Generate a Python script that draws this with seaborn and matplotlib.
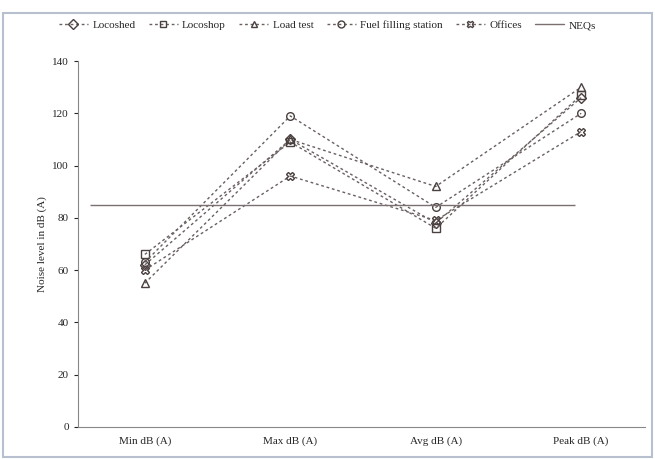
import matplotlib
matplotlib.use("Agg")
import matplotlib.pyplot as plt
import pandas as pd
import seaborn as sns

# values
levels = ["Min dB (A)", "Max dB (A)", "Avg dB (A)", "Peak dB (A)"]
locoshed = [62, 110, 78, 126]
locoshop = [66, 109, 76, 127]
load_test = [55, 110, 92, 130]
fuel_station = [63, 119, 84, 120]
offices = [60, 96, 79, 113]
neqs = 85

sites = ["Locoshed", "Locoshop", "Load test", "Fuel filling station", "Offices"]
series = [locoshed, locoshop, load_test, fuel_station, offices]

rows = []
for site, vals in zip(sites, series):
    for lvl, v in zip(levels, vals):
        rows.append({"level": lvl, "value": v, "site": site})
df = pd.DataFrame(rows)

sns.set_style("white")
plt.rcParams["font.family"] = ["Liberation Serif", "DejaVu Serif"]

fig = plt.figure(figsize=(6.55, 4.59), dpi=100)
ax = fig.add_axes([0.119, 0.07, 0.866, 0.797])

markers = {"Locoshed": "D", "Locoshop": "s", "Load test": "^",
           "Fuel filling station": "o", "Offices": "X"}
dashes = {s: (2, 2) for s in sites}
palette = {s: "#6a6060" for s in sites}

sns.lineplot(data=df, x="level", y="value", hue="site", style="site",
             markers=markers, dashes=dashes, palette=palette, sort=False,
             linewidth=1.0, markersize=5.5, ax=ax, legend=False)

for line in ax.get_lines():
    line.set_markerfacecolor("none")
    line.set_markeredgecolor("#4a4040")
    line.set_markeredgewidth(1.0)

ax.hlines(neqs, -0.38, 2.96, color="#7a7070", linewidth=1.0)

ax.set_ylim(0, 140)
ax.set_xlim(-0.46, 3.44)
ax.set_yticks(range(0, 141, 20))
ax.set_xlabel("")
ax.set_ylabel("Noise level in dB (A)", fontsize=8)
ax.tick_params(axis="both", labelsize=8, length=3, direction="out", left=True, bottom=False)
for side in ["top", "right"]:
    ax.spines[side].set_visible(False)
for side in ["left", "bottom"]:
    ax.spines[side].set_color("#888888")

# legend
handles = []
for s in sites:
    h, = ax.plot([], [], linestyle=(0, (2, 2)), color="#6a6060", marker=markers[s],
                 markerfacecolor="none", markeredgecolor="#4a4040", markersize=5, linewidth=1.0)
    handles.append(h)
h, = ax.plot([], [], color="#7a7070", linewidth=1.0)
handles.append(h)
fig.legend(handles, sites + ["NEQs"], loc="center", bbox_to_anchor=(0.5, 0.945),
           ncol=6, frameon=False, fontsize=8, handlelength=2.6, columnspacing=1.2,
           handletextpad=0.4)

fig.patches.append(plt.Rectangle((0.004, 0.004), 0.992, 0.968, transform=fig.transFigure,
                                 fill=False, edgecolor="#b8c0d0", linewidth=1.5))

fig.savefig("out.png", dpi=100)
